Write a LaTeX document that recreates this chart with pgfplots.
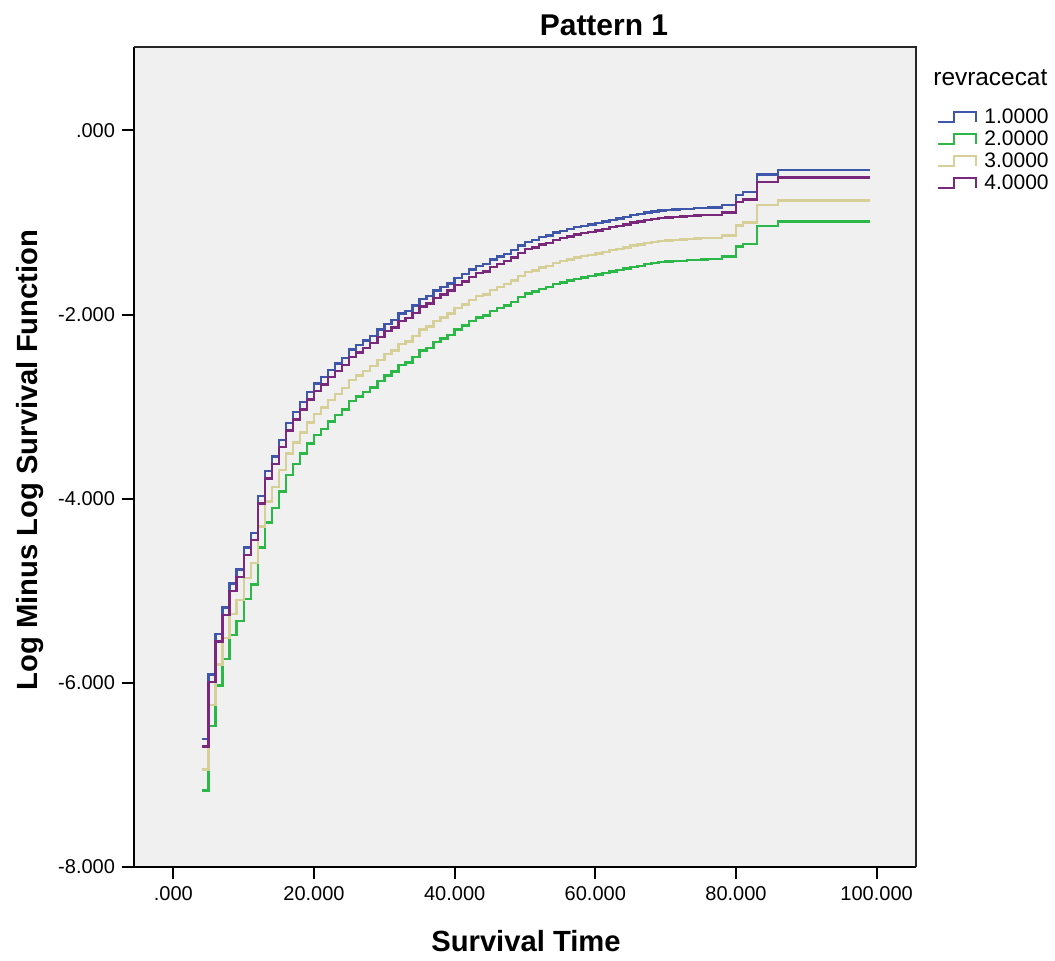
\documentclass[border=0pt]{standalone}
\usepackage{pgfplots}
\pgfplotsset{compat=1.18}
\usepackage{pgfplotstable}
\usepackage{fontspec}
\setmainfont{Liberation Sans}
\definecolor{cA}{RGB}{62,87,170}
\definecolor{cB}{RGB}{44,184,72}
\definecolor{cC}{RGB}{214,208,152}
\definecolor{cD}{RGB}{122,40,124}
\definecolor{bg}{RGB}{240,240,240}
\pgfplotstableread{
t b p y g
4 -6.61 -6.69 -6.94 -7.17
5 -5.91 -5.99 -6.24 -6.47
6 -5.47 -5.55 -5.80 -6.03
7 -5.18 -5.26 -5.51 -5.74
8 -4.92 -5.00 -5.25 -5.48
9 -4.77 -4.85 -5.10 -5.33
10 -4.53 -4.61 -4.86 -5.09
11 -4.37 -4.45 -4.70 -4.93
12 -3.97 -4.05 -4.30 -4.53
13 -3.70 -3.78 -4.03 -4.26
14 -3.54 -3.62 -3.87 -4.10
15 -3.36 -3.44 -3.69 -3.92
16 -3.18 -3.26 -3.51 -3.74
17 -3.06 -3.14 -3.39 -3.62
18 -2.95 -3.03 -3.28 -3.51
19 -2.84 -2.92 -3.17 -3.40
20 -2.75 -2.83 -3.08 -3.31
21 -2.68 -2.76 -3.01 -3.24
22 -2.60 -2.68 -2.93 -3.16
23 -2.53 -2.61 -2.86 -3.09
24 -2.47 -2.55 -2.80 -3.03
25 -2.38 -2.46 -2.71 -2.94
26 -2.33 -2.41 -2.66 -2.89
27 -2.28 -2.36 -2.61 -2.84
28 -2.23 -2.31 -2.56 -2.79
29 -2.16 -2.24 -2.49 -2.72
30 -2.10 -2.18 -2.43 -2.66
31 -2.06 -2.14 -2.39 -2.62
32 -1.99 -2.07 -2.32 -2.55
33 -1.96 -2.04 -2.29 -2.52
34 -1.90 -1.98 -2.23 -2.46
35 -1.83 -1.91 -2.16 -2.39
36 -1.80 -1.88 -2.13 -2.36
37 -1.74 -1.82 -2.07 -2.30
38 -1.70 -1.78 -2.03 -2.26
39 -1.66 -1.74 -1.99 -2.22
40 -1.60 -1.68 -1.93 -2.16
41 -1.56 -1.64 -1.89 -2.12
42 -1.51 -1.59 -1.84 -2.07
43 -1.47 -1.55 -1.80 -2.03
44 -1.45 -1.53 -1.78 -2.01
45 -1.40 -1.48 -1.73 -1.96
46 -1.37 -1.45 -1.70 -1.93
47 -1.34 -1.42 -1.67 -1.90
48 -1.30 -1.38 -1.63 -1.86
49 -1.25 -1.33 -1.58 -1.81
50 -1.21 -1.29 -1.54 -1.77
51 -1.19 -1.27 -1.52 -1.75
52 -1.16 -1.24 -1.49 -1.72
53 -1.14 -1.22 -1.47 -1.70
54 -1.11 -1.19 -1.44 -1.67
55 -1.09 -1.17 -1.42 -1.65
56 -1.07 -1.15 -1.40 -1.63
57 -1.05 -1.13 -1.38 -1.61
58 -1.035 -1.115 -1.365 -1.595
59 -1.02 -1.10 -1.35 -1.58
60 -1.005 -1.085 -1.335 -1.565
61 -0.99 -1.07 -1.32 -1.55
62 -0.97 -1.05 -1.30 -1.53
63 -0.955 -1.035 -1.285 -1.515
64 -0.94 -1.02 -1.27 -1.50
65 -0.92 -1.00 -1.25 -1.48
66 -0.91 -0.99 -1.24 -1.47
67 -0.89 -0.97 -1.22 -1.45
68 -0.88 -0.96 -1.21 -1.44
69 -0.87 -0.95 -1.20 -1.43
70 -0.865 -0.945 -1.195 -1.425
71 -0.86 -0.94 -1.19 -1.42
72 -0.855 -0.935 -1.185 -1.415
73 -0.85 -0.93 -1.18 -1.41
74 -0.845 -0.925 -1.175 -1.405
75 -0.84 -0.92 -1.17 -1.40
76 -0.835 -0.915 -1.165 -1.395
78 -0.81 -0.89 -1.14 -1.37
80 -0.70 -0.78 -1.03 -1.26
81 -0.67 -0.75 -1.00 -1.23
83 -0.48 -0.56 -0.81 -1.04
86 -0.43 -0.51 -0.76 -0.99
99 -0.43 -0.51 -0.76 -0.99
}\data
\begin{document}
\begin{tikzpicture}
\path[use as bounding box] (-67pt,-47pt) rectangle (460.5pt,433.5pt);
\begin{axis}[
  at={(0pt,0pt)}, anchor=south west,
  scale only axis, width=391pt, height=410pt,
  xmin=-5.6, xmax=105.6, ymin=-8, ymax=0.907,
  axis background/.style={fill=bg},
  axis lines=left, axis line style={-, black, line width=1pt},
  xtick={0,20,40,60,80,100},
  xticklabels={.000,20.000,40.000,60.000,80.000,100.000},
  ytick={-8,-6,-4,-2,0},
  yticklabels={-8.000,-6.000,-4.000,-2.000,.000},
  tick align=outside, major tick length=6pt,
  tick style={black, line width=1pt},
  ticklabel style={font=\fontsize{10}{12}\selectfont},
  clip=false,
  legend style={at={(axis description cs:1.0256,0.925)}, anchor=north west,
    draw=none, fill=none, inner sep=0pt, column sep=3.5pt, row sep=0pt,
    font=\fontsize{10.5}{12}\selectfont,
    nodes={inner sep=0pt, text height=7.5pt, text depth=3.5pt}},
  legend cell align=left,
  legend image code/.code={\draw[#1, line width=1.2pt] (0pt,-1pt) -- (8.3pt,-1pt) -- (8.3pt,4pt) -- (19.3pt,4pt) -- (19.3pt,-1pt);},
]
\draw[black!85, line width=0.6pt] (rel axis cs:0,1) -- (rel axis cs:1,1) -- (rel axis cs:1,0);
\addplot[const plot, color=cA, line width=1.2pt] table[x=t,y=b]{\data};
\addplot[const plot, color=cB, line width=1.2pt] table[x=t,y=g]{\data};
\addplot[const plot, color=cC, line width=1.2pt] table[x=t,y=y]{\data};
\addplot[const plot, color=cD, line width=1.2pt] table[x=t,y=p]{\data};
\legend{1.0000,2.0000,3.0000,4.0000}
\end{axis}
\begin{scope}[shift={(-67pt,433.5pt)}, x=0.5pt, y=-0.5pt]
\node[font=\bfseries\fontsize{15}{18}\selectfont] at (604,25) {Pattern 1};
\node[font=\bfseries\fontsize{14.6}{17}\selectfont] at (526,941) {Survival Time};
\node[font=\bfseries\fontsize{14.6}{17}\selectfont, rotate=90] at (30,460) {Log Minus Log Survival Function};
\node[font=\fontsize{12.2}{14}\selectfont, anchor=west, inner sep=0pt] at (933,78) {revracecat};
\end{scope}
\end{tikzpicture}
\end{document}
